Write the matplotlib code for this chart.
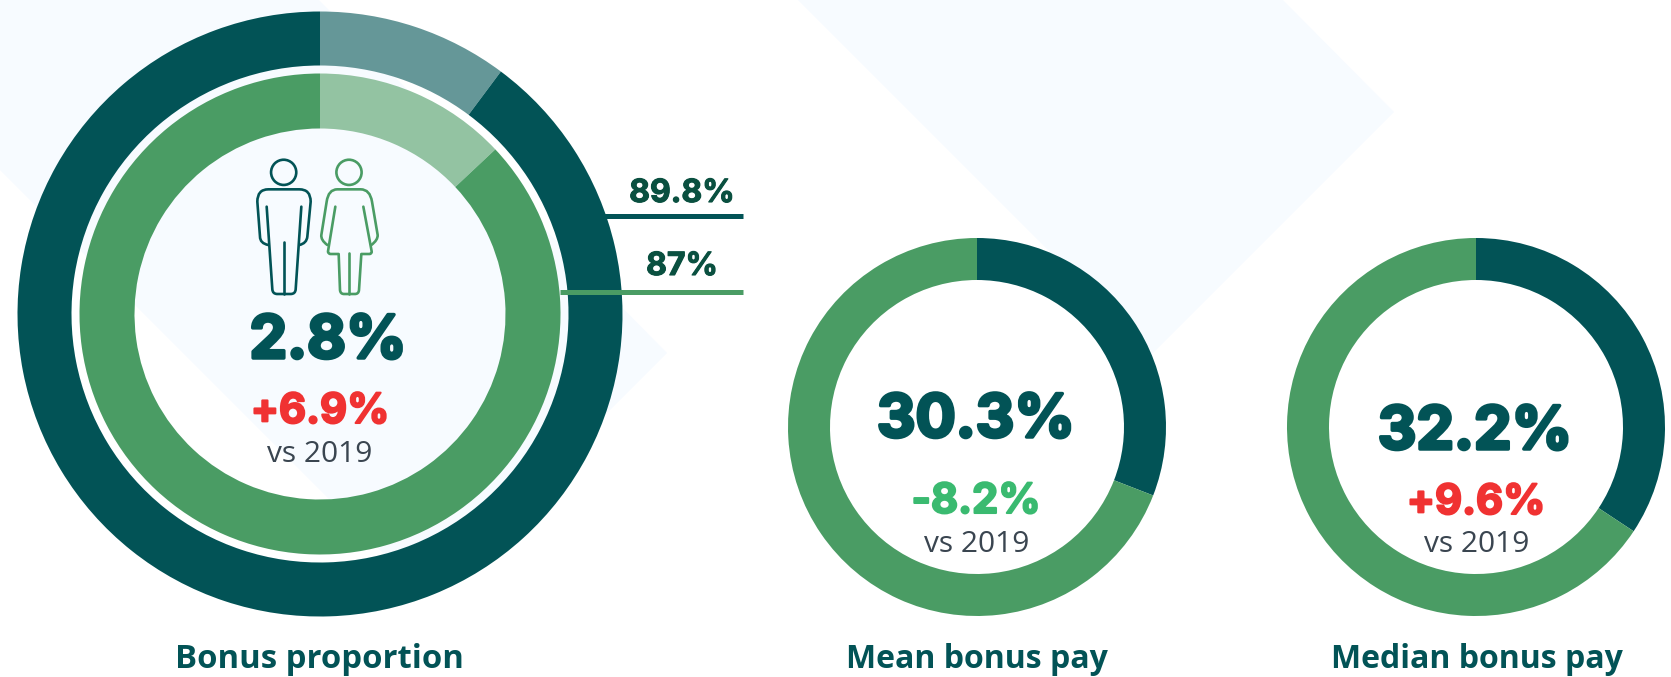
#!/usr/bin/env python3
import matplotlib
matplotlib.use('agg')
import matplotlib.pyplot as plt
from matplotlib.patches import Circle, PathPatch, Polygon
from matplotlib.path import Path
import matplotlib.patheffects as pe

W, H = 1671, 677

# values
men_share = [10.2, 89.8]
women_share = [13.0, 87.0]
# both small arcs are drawn a bit longer than their labels say
mean_share = [30.9, 69.1]
median_share = [34.3, 65.7]

big_labels = ["89.8%", "87%"]
headlines = ["2.8%", "30.3%", "32.2%"]
changes = ["+6.9%", "-8.2%", "+9.6%"]
titles = ["Bonus proportion", "Mean bonus pay", "Median bonus pay"]

DARK = "#025356"
GREEN = "#4a9c64"
DARK_LIGHT = "#659798"
GREEN_LIGHT = "#93c3a2"
BG = "#f7fbff"
RED = "#f03232"
UP = "#3aba70"
GREY = "#3a4550"
LABEL = "#0a5040"

NUM_FONT = ["Inter", "DejaVu Sans"]
SUB_FONT = ["Open Sans", "DejaVu Sans"]


def py(y):
    # picture rows count from the top
    return H - y


def ring(ax, shares, colors, cx, cy, radius, width, zorder):
    wedges, _ = ax.pie(shares, colors=colors, center=(cx, py(cy)), radius=radius,
                       startangle=90, counterclock=False,
                       wedgeprops=dict(width=width, linewidth=0))
    for w in wedges:
        w.set_zorder(zorder)


def put(ax, x, y, s, size, color, weight, family=NUM_FONT, fat=0):
    t = ax.text(x, py(y), s, fontsize=size, color=color, fontweight=weight, family=family,
                ha='center', va='baseline', zorder=10)
    if fat:
        t.set_path_effects([pe.withStroke(linewidth=fat, foreground=color)])


def stroke(ax, color, pts):
    # pts are in 3x icon units, "M"/"L"/"Q" commands
    verts, codes = [], []
    for cmd, *p in pts:
        if cmd == "M":
            codes.append(Path.MOVETO)
        elif cmd == "L":
            codes.append(Path.LINETO)
        else:
            codes += [Path.CURVE3, Path.CURVE3]
        for a, b in p:
            verts.append((200 + a / 3, py(130 + b / 3)))
    ax.add_patch(PathPatch(Path(verts, codes), fill=False, edgecolor=color, lw=1.9,
                           capstyle='round', joinstyle='round', zorder=8))


fig = plt.figure(figsize=(W / 100, H / 100), dpi=100)
ax = fig.add_axes([0, 0, 1, 1])

# background chevrons
for poly in ([(0, 0), (319, 0), (667, 353), (425, 595), (0, 170)],
             [(798, 0), (1283, 0), (1394, 112), (1152, 354)]):
    ax.add_patch(Polygon([(x, py(y)) for x, y in poly], closed=True, fc=BG, ec='none', zorder=0))

# big double ring
ax.plot([600, 743], [py(216)] * 2, color=DARK, lw=3.6, solid_capstyle='butt', zorder=1)
ring(ax, men_share, [DARK_LIGHT, DARK], 320, 314, 302.5, 54, 2)
ring(ax, women_share, [GREEN_LIGHT, GREEN], 320, 314, 240.5, 55, 2)
ax.plot([560, 743], [py(292)] * 2, color=GREEN, lw=3.6, solid_capstyle='butt', zorder=3)

# small rings, white inside
ax.add_patch(Circle((977, py(427)), 150, fc='white', ec='none', zorder=1))
ax.add_patch(Circle((1476, py(427)), 150, fc='white', ec='none', zorder=1))
ring(ax, mean_share, [DARK, GREEN], 977, 427, 189, 42, 2)
ring(ax, median_share, [DARK, GREEN], 1476, 427, 189, 42, 2)

# man icon
ax.add_patch(Circle((200 + 251 / 3, py(130 + 127 / 3)), 12.6, fill=False, ec=DARK, lw=1.9, zorder=8))
stroke(ax, DARK, [
    ("M", (205, 345)), ("Q", (180, 340), (180, 320)), ("L", (172, 215)),
    ("Q", (172, 178), (205, 178)), ("L", (298, 178)), ("Q", (332, 178), (332, 215)),
    ("L", (322, 320)), ("Q", (320, 340), (298, 345)),
])
stroke(ax, DARK, [
    ("M", (200, 230)), ("L", (217, 478)), ("Q", (218, 492), (232, 492)), ("L", (272, 492)),
    ("Q", (286, 492), (287, 478)), ("L", (304, 230)),
])
stroke(ax, DARK, [("M", (251, 335)), ("L", (251, 492))])

# woman icon
ax.add_patch(Circle((200 + 447 / 3, py(130 + 127 / 3)), 12.6, fill=False, ec=GREEN, lw=1.9, zorder=8))
stroke(ax, GREEN, [
    ("M", (382, 345)), ("Q", (362, 330), (364, 315)), ("L", (380, 215)),
    ("Q", (385, 178), (412, 178)), ("L", (482, 178)), ("Q", (510, 178), (516, 215)),
    ("L", (533, 315)), ("Q", (534, 330), (514, 345)),
])
stroke(ax, GREEN, [
    ("M", (406, 230)), ("L", (384, 364)), ("Q", (384, 372), (392, 372)), ("L", (416, 372)),
    ("L", (420, 480)), ("Q", (421, 492), (432, 492)), ("L", (465, 492)), ("Q", (476, 492), (477, 480)),
    ("L", (484, 372)), ("L", (508, 372)), ("Q", (516, 372), (515, 364)), ("L", (490, 230)),
])
stroke(ax, GREEN, [("M", (448, 370)), ("L", (448, 492))])

# texts
put(ax, 682, 202, big_labels[0], 23, LABEL, 'bold', fat=0.8)
put(ax, 682, 275, big_labels[1], 23, LABEL, 'bold', fat=0.8)

put(ax, 328, 358, headlines[0], 43, DARK, 'bold', fat=2.5)
put(ax, 320, 423, changes[0], 30, RED, 'bold', fat=1.5)
put(ax, 320, 462, "vs 2019", 21.5, GREY, 'normal', SUB_FONT)

put(ax, 976, 437, headlines[1], 43, DARK, 'bold', fat=2.5)
put(ax, 976, 513, changes[1], 30, UP, 'bold', fat=1.5)
put(ax, 977, 552, "vs 2019", 21.5, GREY, 'normal', SUB_FONT)

put(ax, 1475, 449, headlines[2], 43, DARK, 'bold', fat=2.5)
put(ax, 1476, 514, changes[2], 30, RED, 'bold', fat=1.5)
put(ax, 1477, 552, "vs 2019", 21.5, GREY, 'normal', SUB_FONT)

put(ax, 319, 668, titles[0], 23.7, DARK, 'bold', SUB_FONT)
put(ax, 977, 668, titles[1], 23, DARK, 'bold', SUB_FONT)
put(ax, 1477, 668, titles[2], 23, DARK, 'bold', SUB_FONT)

ax.set_xlim(0, W)
ax.set_ylim(0, H)
ax.set_aspect('equal')
ax.axis('off')
fig.savefig("out.png", dpi=100, facecolor='white')
